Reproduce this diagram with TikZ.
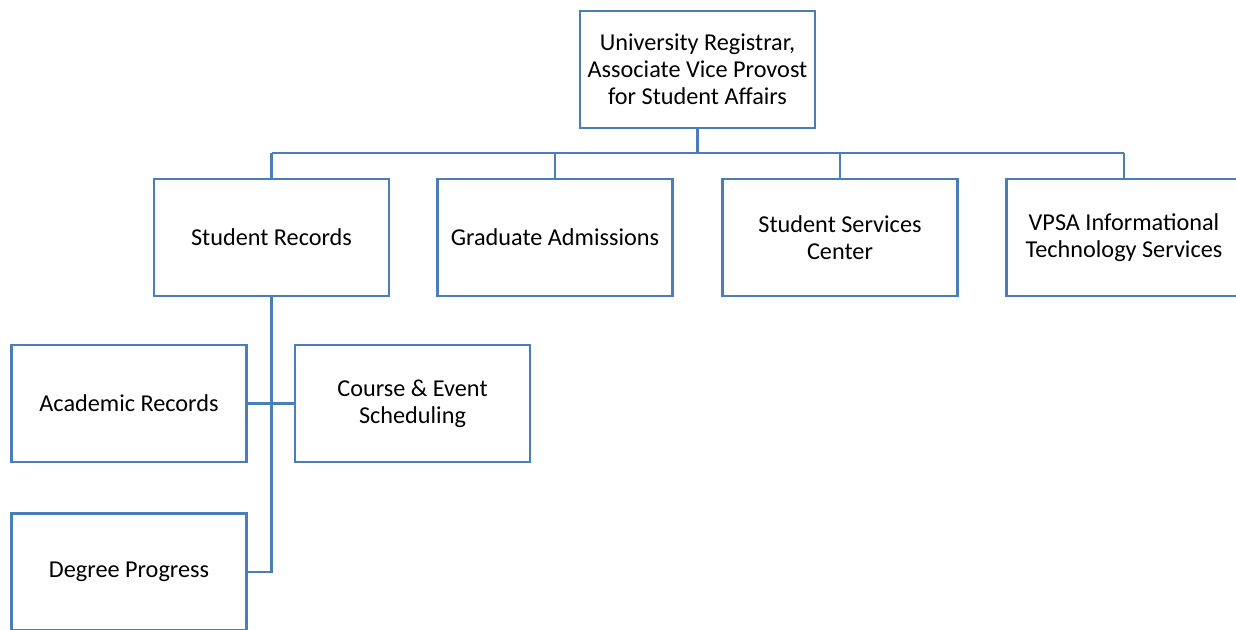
\documentclass[tikz,border=0pt]{standalone}
\usepackage{fontspec}
\setmainfont{Carlito}
\usepackage{tikz}
\usetikzlibrary{positioning,calc}
\definecolor{boxblue}{HTML}{4A7EBB}

\begin{document}
\begin{tikzpicture}[x=0.02cm, y=-0.02cm,
unit/.style={rectangle, draw=boxblue, line width=1.6pt, fill=white,
  minimum width=4.7cm, minimum height=2.34cm, align=center,
  font=\fontsize{13.8}{15.3}\selectfont},
link/.style={draw=boxblue, line width=1.6pt},
    ]
  \useasboundingbox (0,0) rectangle (1236,629);
  \clip (0,0) rectangle (1236,629);

  % top of the chart
  \node[unit] (head) at (697.5,69.5) {University Registrar,\\ Associate Vice Provost\\ for Student Affairs};

  % first level
  \node[unit] (recs) at (271.5,237.5) {Student Records};
  \node[unit] (grad) at (555,237.5) {Graduate Admissions};
  \node[unit] (ssc)  at (840,237.5) {Student Services\\ Center};
  \node[unit] (vpsa) at (1124,237.5) {VPSA Informational\\ Technology Services};

  % under student records
  \node[unit] (acad)   at (129,403.5) {Academic Records};
  \node[unit] (course) at (412.5,403.5) {Course \& Event\\ Scheduling};
  \node[unit] (degree) at (129,572) {Degree Progress};

  \coordinate (bus) at (697.5,153);
  \draw[link] (head.south) -- (bus);
  \draw[link] (bus -| recs.north) -- (bus -| vpsa.north);
  \foreach \n in {recs,grad,ssc,vpsa}
    \draw[link] (bus -| \n.north) -- (\n.north);

  \draw[link] (recs.south) -- (recs.south |- degree.east) -- (degree.east);
  \draw[link] (acad.east) -- (course.west);
\end{tikzpicture}
\end{document}
